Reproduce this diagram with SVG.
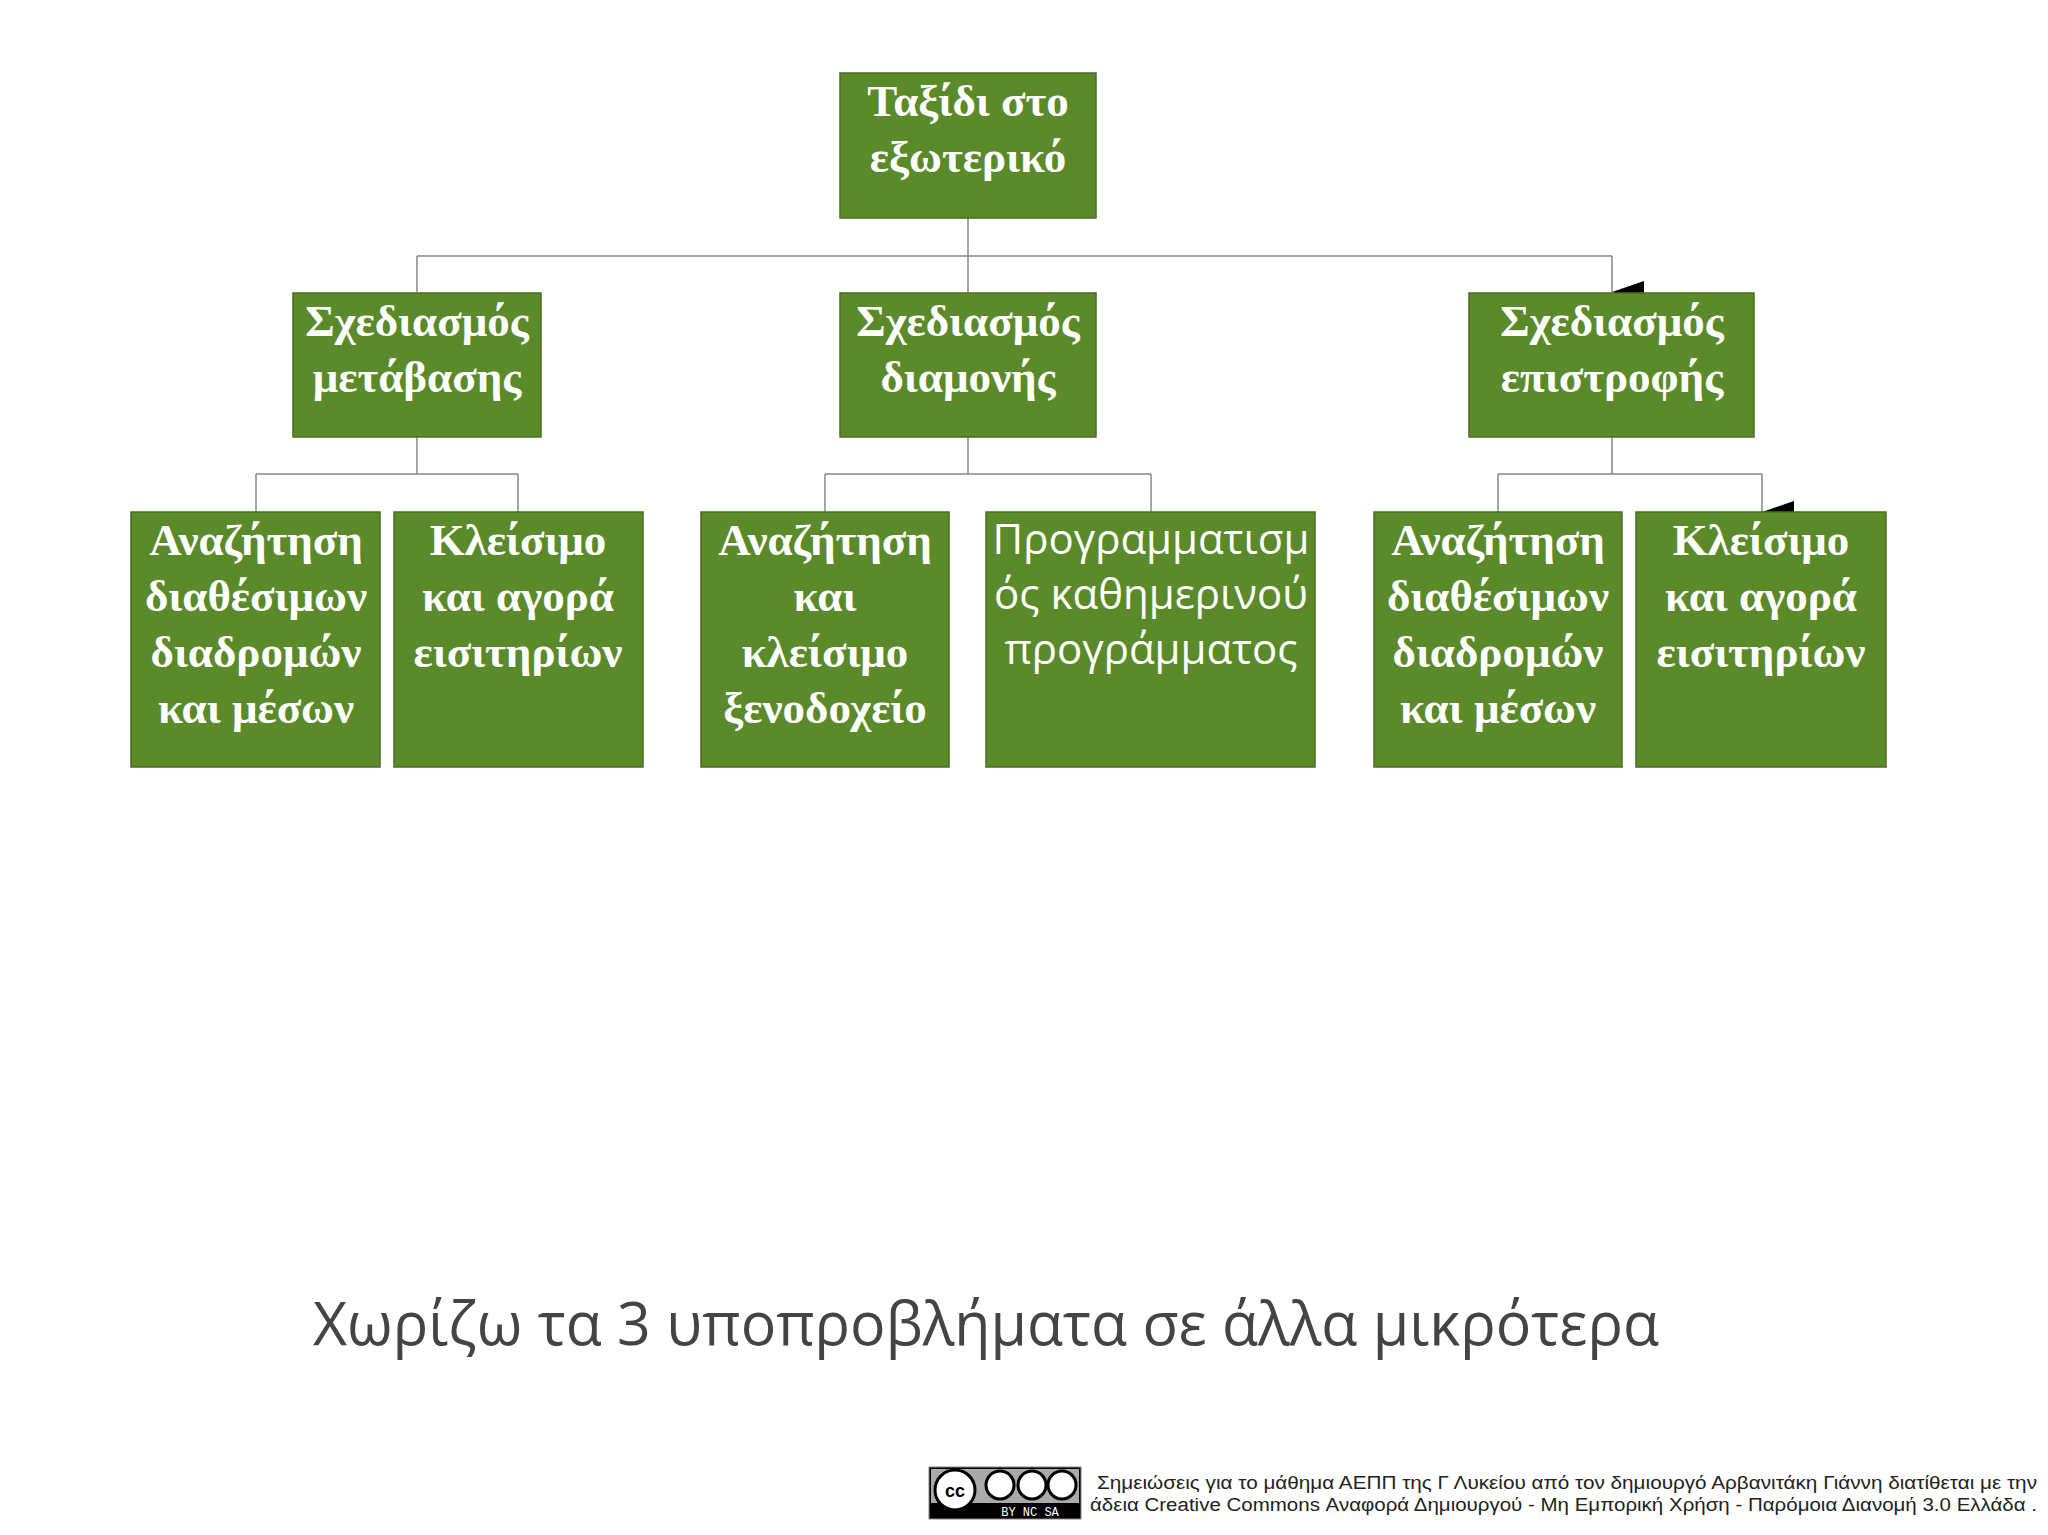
<svg xmlns="http://www.w3.org/2000/svg" width="2048" height="1535" viewBox="0 0 2048 1535">
<style>
.b{fill:#5b8a2a;stroke:#4a6e22;stroke-width:1.5}
.t{font-family:"Liberation Serif","DejaVu Serif",serif;font-weight:bold;font-size:45px;fill:#fff;text-anchor:middle}
.r{font-family:"Open Sans","Noto Sans",sans-serif;font-size:42px;fill:#fff;text-anchor:middle}
.c{stroke:#888;stroke-width:1.5;fill:none}
</style>
<defs><marker id="a" markerWidth="22" markerHeight="32" refX="11" refY="32" orient="auto" markerUnits="userSpaceOnUse" viewBox="0 0 22 32"><path d="M0,0H22L11,32Z" fill="#000"/></marker>
<clipPath id="cp"><rect x="986" y="512" width="329" height="255"/></clipPath></defs>
<rect width="2048" height="1535" fill="#fff"/>
<g id="connectors">
<path class="c" d="M968,218V256M417,256H1612"/>
<path class="c" d="M417,256V292M968,256V292M1612,256V292" marker-end="url(#a)"/>
<path class="c" d="M417,437V474M256,474H518M968,437V474M825,474H1151M1612,437V474M1498,474H1762"/>
<path class="c" d="M256,474V512M518,474V512M825,474V512M1151,474V512M1498,474V512M1762,474V512" marker-end="url(#a)"/>
</g>
<g id="n0"><rect class="b" x="840" y="73" width="256" height="145"/><text class="t" x="968" y="116">Ταξίδι στο</text><text class="t" x="968" y="172">εξωτερικό</text></g>
<g id="n1"><rect class="b" x="293" y="293" width="248" height="144"/><text class="t" x="417" y="336">Σχεδιασμός</text><text class="t" x="417" y="392">μετάβασης</text></g>
<g id="n2"><rect class="b" x="840" y="293" width="256" height="144"/><text class="t" x="968" y="336">Σχεδιασμός</text><text class="t" x="968" y="392">διαμονής</text></g>
<g id="n3"><rect class="b" x="1469" y="293" width="285" height="144"/><text class="t" x="1612" y="336">Σχεδιασμός</text><text class="t" x="1612" y="392">επιστροφής</text></g>
<g id="n4"><rect class="b" x="131" y="512" width="249" height="255"/><text class="t" x="256" y="555">Αναζήτηση</text><text class="t" x="256" y="611">διαθέσιμων</text><text class="t" x="256" y="667">διαδρομών</text><text class="t" x="256" y="723">και μέσων</text></g>
<g id="n5"><rect class="b" x="394" y="512" width="249" height="255"/><text class="t" x="518" y="555">Κλείσιμο</text><text class="t" x="518" y="611">και αγορά</text><text class="t" x="518" y="667">εισιτηρίων</text></g>
<g id="n6"><rect class="b" x="701" y="512" width="248" height="255"/><text class="t" x="825" y="555">Αναζήτηση</text><text class="t" x="825" y="611">και</text><text class="t" x="825" y="667">κλείσιμο</text><text class="t" x="825" y="723">ξενοδοχείο</text></g>
<g id="n7"><rect class="b" x="986" y="512" width="329" height="255"/><g clip-path="url(#cp)"><text class="r" x="1151" y="554">Προγραμματισμ</text><text class="r" x="1151" y="609">ός καθημερινού</text><text class="r" x="1151" y="664">προγράμματος</text></g></g>
<g id="n8"><rect class="b" x="1374" y="512" width="248" height="255"/><text class="t" x="1498" y="555">Αναζήτηση</text><text class="t" x="1498" y="611">διαθέσιμων</text><text class="t" x="1498" y="667">διαδρομών</text><text class="t" x="1498" y="723">και μέσων</text></g>
<g id="n9"><rect class="b" x="1636" y="512" width="250" height="255"/><text class="t" x="1761" y="555">Κλείσιμο</text><text class="t" x="1761" y="611">και αγορά</text><text class="t" x="1761" y="667">εισιτηρίων</text></g>
<text x="313" y="1345" font-family="Open Sans, Noto Sans, sans-serif" font-size="60" fill="#444" textLength="1346" lengthAdjust="spacingAndGlyphs">Χωρίζω τα 3 υποπροβλήματα σε άλλα μικρότερα</text>
<g id="badge"><rect x="929" y="1467" width="152" height="52" fill="#000" stroke="#888"/><rect x="931" y="1469" width="148" height="34" fill="#aaa"/>
<circle cx="955" cy="1490" r="20" fill="#fff" stroke="#000" stroke-width="3"/><text x="955" y="1497" font-family="Liberation Sans, sans-serif" font-weight="bold" font-size="18" text-anchor="middle">cc</text>
<circle cx="1000" cy="1485" r="14" fill="#fff" stroke="#000" stroke-width="3"/><circle cx="1032" cy="1485" r="14" fill="#fff" stroke="#000" stroke-width="3"/><circle cx="1062" cy="1485" r="14" fill="#fff" stroke="#000" stroke-width="3"/>
<text x="1030" y="1516" font-family="Liberation Mono, monospace" font-size="12" fill="#fff" text-anchor="middle">BY  NC  SA</text></g>
<g font-family="Liberation Sans, sans-serif" font-size="18" fill="#222"><text x="1097" y="1489" textLength="940" lengthAdjust="spacingAndGlyphs">Σημειώσεις για το μάθημα ΑΕΠΠ της Γ Λυκείου από τον δημιουργό Αρβανιτάκη Γιάννη διατίθεται με την</text><text x="1090" y="1511" textLength="947" lengthAdjust="spacingAndGlyphs">άδεια Creative Commons Αναφορά Δημιουργού - Μη Εμπορική Χρήση - Παρόμοια Διανομή 3.0 Ελλάδα .</text></g>
</svg>
